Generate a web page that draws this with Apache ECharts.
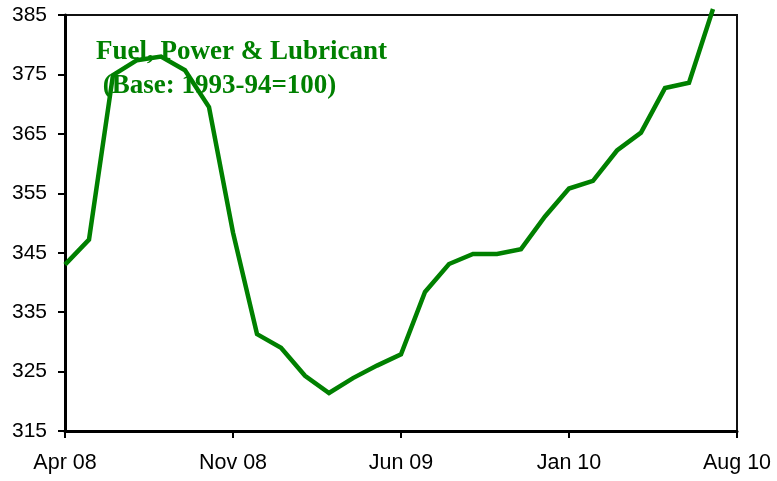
<!DOCTYPE html>
<html>
<head>
<meta charset="utf-8">
<script src="https://cdn.jsdelivr.net/npm/echarts@6/dist/echarts.min.js"></script>
<style>
html,body{margin:0;padding:0;background:#fff;}
#chart{width:777px;height:481px;}
</style>
</head>
<body>
<div id="chart"></div>
<script>
var months = ['Apr 08','May 08','Jun 08','Jul 08','Aug 08','Sep 08','Oct 08','Nov 08','Dec 08',
  'Jan 09','Feb 09','Mar 09','Apr 09','May 09','Jun 09','Jul 09','Aug 09','Sep 09','Oct 09','Nov 09','Dec 09',
  'Jan 10','Feb 10','Mar 10','Apr 10','May 10','Jun 10','Jul 10','Aug 10'];
var fuelIndex = [343.0, 347.2, 374.9, 377.4, 378.0, 375.7, 369.5, 348.4, 331.3,
  329.0, 324.3, 321.4, 323.9, 326.0, 327.9, 338.4, 343.1, 344.8, 344.8, 345.6, 351.1,
  355.8, 357.1, 362.2, 365.2, 372.7, 373.6, 386.0, null];
var yTicks = [315, 325, 335, 345, 355, 365, 375, 385];
var titleLines = ['Fuel, Power & Lubricant', ' (Base: 1993-94=100)'];

var chart = echarts.init(document.getElementById('chart'), null, {renderer:'canvas'});
chart.setOption({
  animation:false,
  backgroundColor:'#ffffff',
  title:{
    text: titleLines.join('\n'),
    left: 91, top: 30, z: 0,
    textStyle:{fontFamily:'Liberation Serif', fontWeight:'bold', fontSize:27, color:'#008000', lineHeight:34}
  },
  grid:{left:65, right:40, top:15, bottom:50, show:true, borderColor:'#111', borderWidth:2, backgroundColor:'transparent'},
  xAxis:{
    type:'category', data: months, boundaryGap:false,
    axisLine:{lineStyle:{color:'#000', width:3}},
    axisTick:{interval:6, length:7, lineStyle:{color:'#000', width:2}},
    axisLabel:{interval:6, margin:21, color:'#000', fontFamily:'Liberation Sans', fontSize:21.5},
    splitLine:{show:false}
  },
  yAxis:{
    type:'value', min: yTicks[0], max: yTicks[yTicks.length-1], interval:10,
    axisLine:{show:true, lineStyle:{color:'#000', width:3}},
    axisTick:{show:true, length:7, lineStyle:{color:'#000', width:2}},
    axisLabel:{margin:18, color:'#000', fontFamily:'Liberation Sans', fontSize:21},
    splitLine:{show:false}
  },
  series:[{
    type:'line', data: fuelIndex, clip:false, z:5,
    showSymbol:false, symbol:'none',
    lineStyle:{color:'#008000', width:4.5, join:'miter'},
    itemStyle:{color:'#008000'}
  }]
});
</script>
</body>
</html>
